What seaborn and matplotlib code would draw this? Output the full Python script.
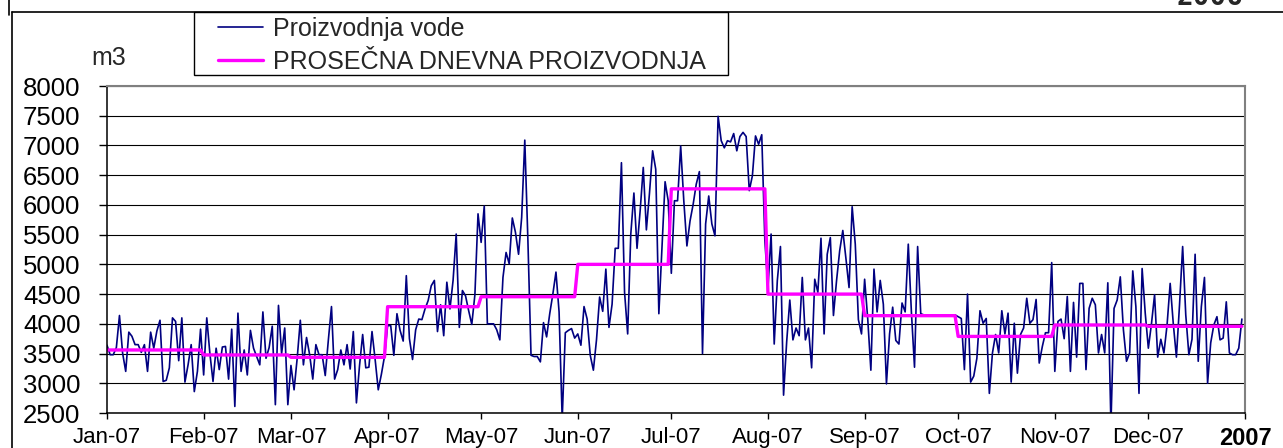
import matplotlib
matplotlib.use("Agg")
import matplotlib.pyplot as plt
from matplotlib.lines import Line2D
from matplotlib.patches import Rectangle
import numpy as np
import pandas as pd
import seaborn as sns

# dnevna proizvodnja vode 2007 (m3), ocitano sa grafika
jan = [3640, 3480, 3480, 3600, 4140, 3510, 3200, 3860, 3790, 3650, 3650, 3520, 3650, 3200, 3860, 3590,
       3880, 4060, 3030, 3050, 3260, 4100, 4040, 3380, 4100, 3020, 3310, 3650, 2860, 3200, 3910]
feb = [3140, 4100, 3500, 3030, 3590, 3230, 3610, 3620, 3070, 3910, 2610, 4180, 3200, 3560, 3140, 3890,
       3590, 3450, 3310, 4200, 3420, 3600, 3960, 2640, 4310, 3500, 3930, 2640]
mar = [3300, 2890, 3420, 4060, 3310, 3770, 3480, 3070, 3650, 3480, 3480, 3130, 3730, 4290, 3070, 3230,
       3560, 3310, 3650, 3240, 3870, 2670, 3300, 3820, 3260, 3270, 3870, 3400, 2890, 3150, 3450]
apr = [3970, 3970, 3470, 4170, 3890, 3710, 4810, 3750, 3400, 3900, 4080, 4070, 4250, 4390, 4640, 4730,
       3870, 4320, 3800, 4700, 4250, 4730, 5510, 3940, 4560, 4470, 4220, 3990, 4490, 5850]
may = [5370, 5980, 4000, 4000, 4000, 3900, 3730, 4780, 5200, 5010, 5780, 5540, 5170, 5790, 7090, 5400,
       3470, 3450, 3450, 3360, 4020, 3780, 4170, 4500, 4870, 4200, 2400, 3850, 3890, 3920, 3760]
jun = [3830, 3640, 4290, 4080, 3470, 3220, 3730, 4450, 4210, 4920, 3940, 4330, 5270, 5270, 6710, 4530,
       3830, 5510, 6200, 5270, 5900, 6630, 5580, 6200, 6910, 6600, 4170, 5300, 6390, 6070]
jul = [4850, 6070, 6070, 6990, 6070, 5310, 5730, 6010, 6350, 6560, 3500, 5680, 6150, 5680, 5480, 7490,
       7080, 6960, 7080, 7060, 7200, 6910, 7150, 7220, 7150, 6240, 6490, 7160, 7020, 7180, 5400]
aug = [4610, 5510, 3660, 4730, 5300, 2800, 3700, 4400, 3730, 3930, 3800, 4780, 3730, 3930, 3260, 4750,
       4530, 5440, 3830, 5170, 5450, 4140, 4730, 5230, 5570, 5100, 4610, 5970, 5340, 4070, 3830]
sep = [4750, 4080, 3220, 4920, 4200, 4730, 4330, 2990, 3830, 4280, 3720, 3660, 4350, 4200, 5340, 4200,
       3270, 5300, 4170, 4150, 4150, 4150, 4150, 4150, 4150, 4150, 4150, 4150, 4150, 4150]
okt = [4120, 4090, 3230, 4500, 3020, 3120, 3420, 4220, 4010, 4090, 2830, 3510, 3820, 3510, 4220, 3830,
       4180, 3020, 4010, 3170, 3820, 3930, 4430, 4010, 4070, 4410, 3340, 3620, 3850, 3850, 5030]
nov = [3200, 4040, 4080, 3750, 4460, 3200, 4360, 3440, 4680, 4680, 3230, 4260, 4430, 4320, 3510, 3820,
       3510, 4690, 2300, 4260, 4400, 4790, 3900, 3370, 3510, 4890, 4290, 2830, 4930, 4180]
dec = [3590, 4000, 4490, 3440, 3740, 3510, 3980, 4680, 4000, 3440, 4320, 5300, 4150, 3480, 3740, 5170,
       3370, 4290, 4780, 3000, 3680, 3980, 4120, 3730, 3760, 4370, 3510, 3480, 3480, 3590, 4080]

# prosecna dnevna proizvodnja po mesecima
monthly_avg = [3560, 3476, 3437, 4288, 4456, 5000, 6270, 4500, 4137, 3788, 3980, 3958]

month_labels = ["Jan-07", "Feb-07", "Mar-07", "Apr-07", "May-07", "Jun-07",
                "Jul-07", "Aug-07", "Sep-07", "Oct-07", "Nov-07", "Dec-07", "2007"]

daily = jan + feb + mar + apr + may + jun + jul + aug + sep + okt + nov + dec
dates = pd.date_range("2007-01-01", "2007-12-31", freq="D")
days_in_month = [len(m) for m in (jan, feb, mar, apr, may, jun, jul, aug, sep, okt, nov, dec)]
avg_daily = np.repeat(monthly_avg, days_in_month)

df = pd.DataFrame({"datum": dates, "proizvodnja": daily, "prosek": avg_daily})

sns.set_style("white")
plt.rcParams["font.family"] = ["Liberation Sans", "DejaVu Sans"]

W, H = 1283, 448
fig = plt.figure(figsize=(W / 100, H / 100), dpi=100)
ax = fig.add_axes([107 / W, 1 - 413 / H, (1245 - 107) / W, (413 - 86) / H])

sns.lineplot(data=df, x="datum", y="proizvodnja", color="#000080", linewidth=1.2,
             ax=ax, label="Proizvodnja vode")
sns.lineplot(data=df, x="datum", y="prosek", color="#FF00FF", linewidth=2.4,
             ax=ax, label="PROSEČNA DNEVNA PROIZVODNJA")

ax.set_ylim(2500, 8000)
ax.set_yticks(range(2500, 8001, 500))
ax.set_xlim(pd.Timestamp("2007-01-01"), pd.Timestamp("2008-01-01"))
ax.set_xticks(pd.date_range("2007-01-01", "2008-01-01", freq="MS"))
ax.set_xticklabels(month_labels)
ax.set_xlabel("")
ax.set_ylabel("")

ax.yaxis.grid(True, color="black", linewidth=0.8)
ax.xaxis.grid(False)
ax.set_axisbelow(True)

for side in ["left", "bottom"]:
    ax.spines[side].set_color("black")
    ax.spines[side].set_linewidth(1.1)
for side in ["top", "right"]:
    ax.spines[side].set_color("#808080")
    ax.spines[side].set_linewidth(1.5)

ax.tick_params(axis="y", length=6, width=1, pad=13, labelsize=18.5, colors="black", left=True)
ax.tick_params(axis="x", length=4, width=1, pad=6, labelsize=16, colors="black", bottom=True)
last = ax.get_xticklabels()[-1]
last.set_fontweight("bold")
last.set_fontsize(17)

# legenda
handles, labels = ax.get_legend_handles_labels()
ax.get_legend().remove()
fig.legend(handles, labels, loc="upper left", bbox_to_anchor=(218 / W, 1 - 17 / H),
           frameon=False, borderpad=0, borderaxespad=0, fontsize=18,
           handlelength=1.8, handletextpad=0.4, labelspacing=0.35)
fig.add_artist(Rectangle((194 / W, 1 - 75 / H), (728 - 194) / W, (75 - 12) / H,
                         transform=fig.transFigure, fill=False, edgecolor="black", linewidth=1))

fig.text(109 / W, 1 - 58 / H, "m3", ha="center", va="center", fontsize=18)

# okvir grafika
fig.add_artist(Line2D([12 / W, 12 / W], [0, 1 - 12 / H], color="black", linewidth=1.2,
                      transform=fig.transFigure))
fig.add_artist(Line2D([12 / W, 1], [1 - 12 / H, 1 - 12 / H], color="black", linewidth=1.2,
                      transform=fig.transFigure))
fig.add_artist(Line2D([9 / W, 9 / W], [1 - 15 / H, 1], color="black", linewidth=1.2,
                      transform=fig.transFigure))
fig.text(1177 / W, 1 - 5 / H, "2006", ha="left", va="baseline", fontsize=20,
         fontweight="bold", family="DejaVu Sans Mono")

fig.savefig("out.png", dpi=100)
